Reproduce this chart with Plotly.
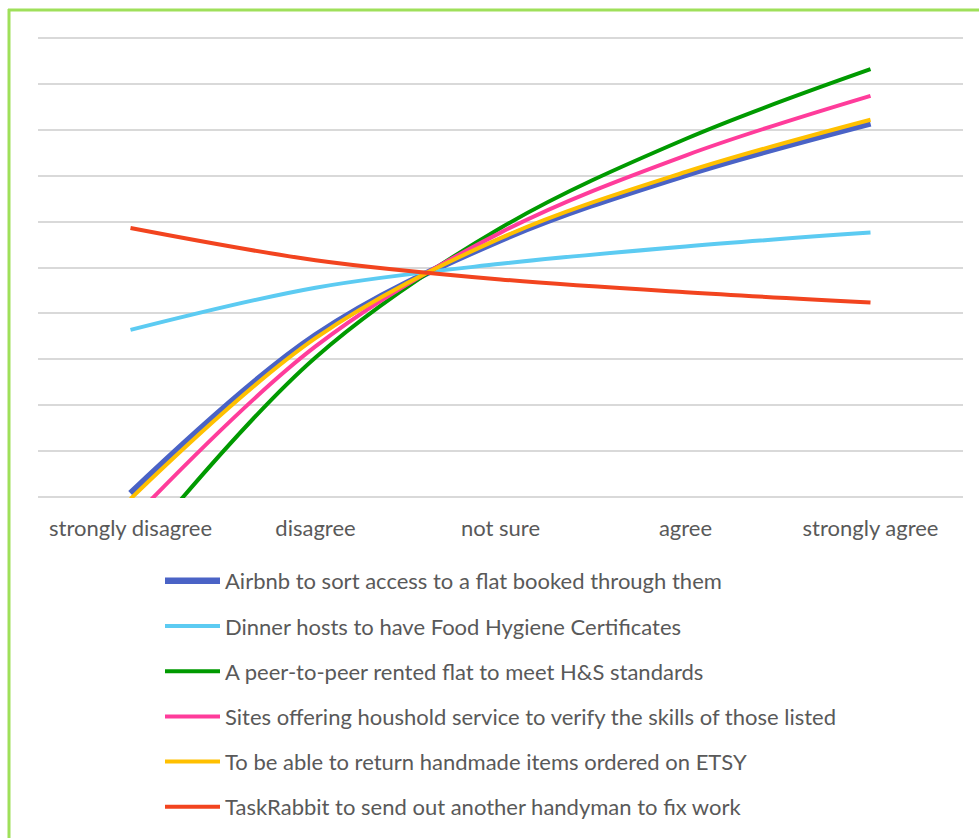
import plotly.graph_objects as go

categories = ["strongly disagree", "disagree", "not sure", "agree", "strongly agree"]

series_names = [
    "Airbnb to sort access to a flat booked through them",
    "Dinner hosts to have Food Hygiene Certificates",
    "A peer-to-peer rented flat to meet H&S standards",
    "Sites offering houshold service to verify the skills of those listed",
    "To be able to return handmade items ordered on ETSY",
    "TaskRabbit to send out another handyman to fix work",
]

airbnb = [0.4, 17.6, 28.0, 35.1, 40.7]
dinner = [18.2, 22.8, 25.4, 27.3, 28.8]
peer_flat = [-6.8, 15.2, 29.3, 39.0, 46.6]
household = [-2.6, 16.4, 28.8, 37.2, 43.7]
etsy = [-0.2, 17.3, 28.2, 35.4, 41.1]
taskrabbit = [29.3, 25.8, 23.7, 22.3, 21.2]

series_values = [airbnb, dinner, peer_flat, household, etsy, taskrabbit]
colors = ["#4a63c6", "#5ccbf2", "#009a00", "#ff3c9b", "#ffc000", "#f2441f"]
widths = [6.5, 4, 4, 4, 4, 4]

fig = go.Figure()
for i, (name, vals) in enumerate(zip(series_names, series_values)):
    fig.add_trace(go.Scatter(
        x=categories, y=vals, name=name, mode="lines",
        line=dict(color=colors[i], width=widths[i], shape="spline", smoothing=1.0),
        legendgroup=f"g{i}",
    ))

W, H = 979, 838
L, R, T, B = 38, 16, 37, 340
pw = W - L - R
ph = H - T - B

def px_x(p):
    return (p - L) / pw

def px_y(p):
    return (H - B - p) / ph

font_family = "Lato, 'Open Sans', sans-serif"
text_color = "#595959"

fig.update_layout(
    width=W, height=H,
    margin=dict(l=L, r=R, t=T, b=B),
    plot_bgcolor="white", paper_bgcolor="white",
    font=dict(family=font_family, size=22, color=text_color),
    xaxis=dict(
        type="category", range=[-0.5, 4.5], showgrid=False, showline=False,
        ticks="outside", ticklen=11, tickcolor="rgba(0,0,0,0)",
        tickfont=dict(size=22, color=text_color), fixedrange=True,
    ),
    yaxis=dict(
        range=[-0.11, 50.11], dtick=5, showgrid=True, gridcolor="#d9d9d9", gridwidth=2,
        zeroline=True, zerolinecolor="#d9d9d9", zerolinewidth=2,
        showticklabels=False, ticks="", showline=False,
    ),
    showlegend=True,
    legend=dict(
        orientation="v", x=px_x(160), xanchor="left",
        yref="container", y=1 - 560 / H, yanchor="top",
        font=dict(size=22, color=text_color, family=font_family),
        tracegroupgap=13.6, itemwidth=55, bgcolor="rgba(0,0,0,0)",
        traceorder="grouped",
    ),
    shapes=[
        dict(type="line", xref="paper", yref="paper", x0=px_x(9), x1=px_x(9),
             y0=px_y(9), y1=px_y(H + 5), line=dict(color="#9fe05a", width=3)),
        dict(type="line", xref="paper", yref="paper", x0=px_x(8), x1=px_x(W + 5),
             y0=px_y(10), y1=px_y(10), line=dict(color="#9fe05a", width=3)),
    ],
)

fig.write_html("out.html")
